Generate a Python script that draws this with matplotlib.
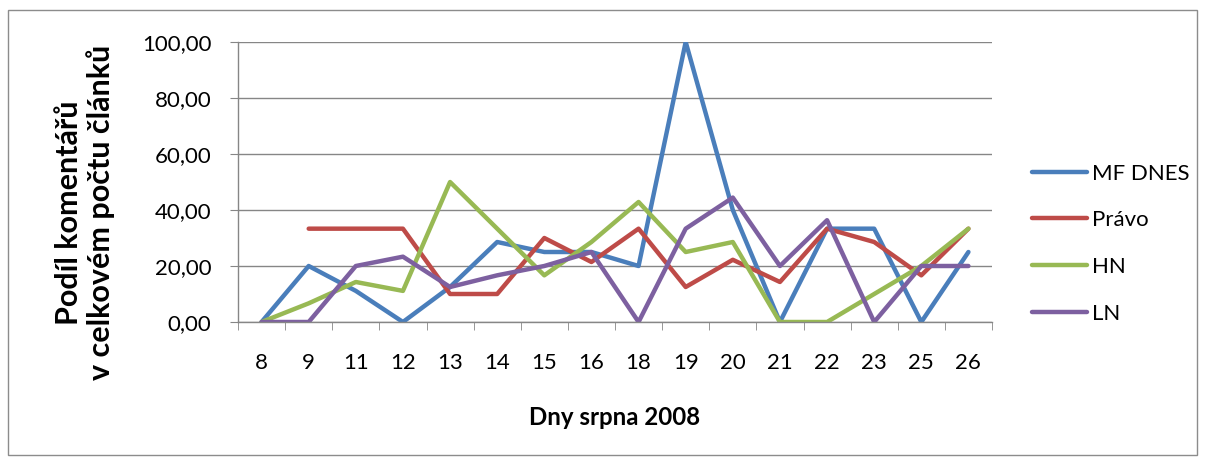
import matplotlib.pyplot as plt
from matplotlib.patches import Rectangle
from matplotlib.ticker import FuncFormatter
import numpy as np

plt.rcParams['font.family'] = ['Lato', 'DejaVu Sans']

days = ["8", "9", "11", "12", "13", "14", "15", "16", "18", "19", "20", "21", "22", "23", "25", "26"]
mf_dnes = [0, 20, 11.11, 0, 12.5, 28.57, 25, 25, 20, 100, 40, 0, 33.33, 33.33, 0, 25]
pravo = [np.nan, 33.33, 33.33, 33.33, 10, 10, 30, 21.43, 33.33, 12.5, 22.22, 14.29, 33.33, 28.57, 16.67, 33.33]
hn = [0, 6.67, 14.29, 11.11, 50, 33.33, 16.67, 28.57, 42.86, 25, 28.57, 0, 0, 10, 20, 33.33]
ln = [0, 0, 20, 23.33, 12.5, 16.67, 20, 25, 0, 33.33, 44.44, 20, 36.36, 0, 20, 20]

series = [("MF DNES", mf_dnes, "#4A7EBB"),
          ("Právo", pravo, "#BE4B48"),
          ("HN", hn, "#98B954"),
          ("LN", ln, "#7D60A0")]

fig = plt.figure(figsize=(12.05, 4.59), dpi=100)
fig.patches.append(Rectangle((8 / 1205, 4 / 459), 1189 / 1205, 445 / 459,
                             transform=fig.transFigure, fill=False,
                             edgecolor="#8c8c8c", linewidth=1))
ax = fig.add_axes([238 / 1205, 1 - 322 / 459, 754 / 1205, 280 / 459])

x = np.arange(len(days))
for name, vals, col in series:
    ax.plot(x, vals, color=col, linewidth=3.2, label=name, solid_capstyle="round")

grid_col = "#868686"
ax.set_xlim(-0.5, len(days) - 0.5)
ax.set_ylim(0, 100)
ax.set_yticks(np.arange(0, 101, 20))
ax.yaxis.set_major_formatter(FuncFormatter(lambda v, p: f"{v:.2f}".replace(".", ",")))
ax.yaxis.grid(True, color=grid_col, linewidth=1)
ax.set_axisbelow(True)
ax.set_xticks(x)
ax.set_xticklabels(days)
ax.set_xticks(np.arange(-0.5, len(days), 1), minor=True)
ax.tick_params(axis="x", which="major", length=0, pad=22, labelsize=16)
ax.tick_params(axis="x", which="minor", length=6, color=grid_col, direction="out")
ax.tick_params(axis="y", length=6, color=grid_col, pad=13, labelsize=16)
for s in ["top", "right"]:
    ax.spines[s].set_visible(False)
for s in ["left", "bottom"]:
    ax.spines[s].set_color(grid_col)
    ax.spines[s].set_linewidth(1)

ax.set_xlabel("Dny srpna 2008", fontsize=17.3, fontweight="bold", labelpad=24)
ax.set_ylabel("Podíl komentářů\nv celkovém počtu článků", fontsize=22,
              fontweight="bold", linespacing=1.15)
ax.yaxis.set_label_coords(-0.163, 0.39)

ax.legend(loc="center left", bbox_to_anchor=(1.041, 0.28), frameon=False,
          borderaxespad=0, fontsize=16, handlelength=2.5, labelspacing=1.2,
          handletextpad=0.2)

fig.savefig("out.png", dpi=100)
